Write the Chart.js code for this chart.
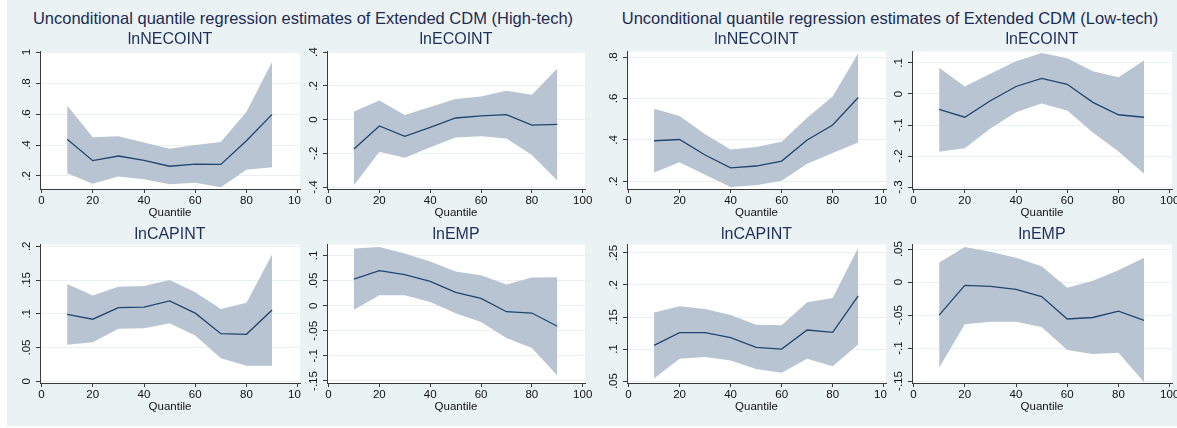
<!DOCTYPE html>
<html>
<head>
<meta charset="utf-8">
<script src="https://cdn.jsdelivr.net/npm/chart.js@4"></script>
<style>
  html, body { margin: 0; padding: 0; background: #fff; }
  body { width: 1177px; height: 428px; position: relative; overflow: hidden; font-family: "Liberation Sans", Arial, sans-serif; }
  #bg { position: absolute; left: 7px; top: 0; width: 1170px; height: 426px; background: #eaf2f3; }
  .main-title { position: absolute; top: 8px; width: 600px; text-align: center; font-size: 16.5px; line-height: 20px; color: #1e2b52; white-space: nowrap; }
  canvas.panel { position: absolute; }
</style>
</head>
<body>
<div id="bg"></div>
<div class="main-title" style="left:3px">Unconditional quantile regression estimates of Extended CDM (High-tech)</div>
<div class="main-title" style="left:590px">Unconditional quantile regression estimates of Extended CDM (Low-tech)</div>

<script>
// quantiles on the x axis
const quantiles = [10, 20, 30, 40, 50, 60, 70, 80, 90];
const xTicks = [0, 20, 40, 60, 80, 100];

// High-tech: lnNECOINT
const hiNecoEst = [0.437, 0.299, 0.329, 0.301, 0.263, 0.277, 0.275, 0.428, 0.598];
const hiNecoHi  = [0.656, 0.450, 0.456, 0.417, 0.376, 0.400, 0.419, 0.615, 0.937];
const hiNecoLo  = [0.217, 0.150, 0.196, 0.179, 0.146, 0.157, 0.127, 0.241, 0.256];
const hiNecoTicks = [0.2, 0.4, 0.6, 0.8, 1];

// High-tech: lnECOINT
const hiEcoEst = [-0.174, -0.037, -0.099, -0.045, 0.010, 0.022, 0.030, -0.032, -0.028];
const hiEcoHi  = [0.049, 0.113, 0.028, 0.075, 0.123, 0.138, 0.172, 0.148, 0.304];
const hiEcoLo  = [-0.389, -0.190, -0.225, -0.164, -0.105, -0.099, -0.111, -0.209, -0.360];
const hiEcoTicks = [-0.4, -0.2, 0, 0.2, 0.4];

// Low-tech: lnNECOINT
const loNecoEst = [0.396, 0.402, 0.327, 0.265, 0.274, 0.298, 0.400, 0.472, 0.605];
const loNecoHi  = [0.550, 0.515, 0.427, 0.354, 0.366, 0.391, 0.507, 0.610, 0.819];
const loNecoLo  = [0.243, 0.292, 0.232, 0.173, 0.181, 0.203, 0.285, 0.337, 0.388];
const loNecoTicks = [0.2, 0.4, 0.6, 0.8];

// Low-tech: lnECOINT
const loEcoEst = [-0.050, -0.075, -0.022, 0.024, 0.050, 0.031, -0.027, -0.067, -0.075];
const loEcoHi  = [0.084, 0.024, 0.065, 0.105, 0.132, 0.115, 0.073, 0.054, 0.108];
const loEcoLo  = [-0.186, -0.175, -0.111, -0.059, -0.031, -0.053, -0.124, -0.185, -0.257];
const loEcoTicks = [-0.3, -0.2, -0.1, 0, 0.1];

// High-tech: lnCAPINT
const hiCapEst = [0.099, 0.092, 0.109, 0.110, 0.119, 0.101, 0.0706, 0.0696, 0.1057];
const hiCapHi  = [0.144, 0.127, 0.140, 0.141, 0.150, 0.132, 0.107, 0.1165, 0.188];
const hiCapLo  = [0.054, 0.058, 0.078, 0.0785, 0.086, 0.068, 0.034, 0.023, 0.023];
const hiCapTicks = [0, 0.05, 0.1, 0.15, 0.2];

// High-tech: lnEMP
const hiEmpEst = [0.053, 0.070, 0.062, 0.0485, 0.0266, 0.0146, -0.012, -0.0146, -0.041];
const hiEmpHi  = [0.114, 0.117, 0.104, 0.088, 0.068, 0.0605, 0.042, 0.056, 0.0565];
const hiEmpLo  = [-0.008, 0.021, 0.0206, 0.0073, -0.015, -0.0326, -0.0645, -0.0845, -0.139];
const hiEmpTicks = [-0.15, -0.1, -0.05, 0, 0.05, 0.1];

// Low-tech: lnCAPINT
const loCapEst = [0.1057, 0.1255, 0.1255, 0.1177, 0.1026, 0.100, 0.1297, 0.126, 0.183];
const loCapHi  = [0.157, 0.1667, 0.1625, 0.153, 0.138, 0.137, 0.173, 0.1797, 0.258];
const loCapLo  = [0.054, 0.085, 0.0875, 0.082, 0.0688, 0.063, 0.085, 0.073, 0.107];
const loCapTicks = [0.05, 0.1, 0.15, 0.2, 0.25];

// Low-tech: lnEMP
const loEmpEst = [-0.050, -0.005, -0.0066, -0.011, -0.022, -0.056, -0.0537, -0.044, -0.058];
const loEmpHi  = [0.0297, 0.053, 0.046, 0.037, 0.024, -0.0087, 0.002, 0.018, 0.037];
const loEmpLo  = [-0.130, -0.064, -0.060, -0.060, -0.068, -0.103, -0.109, -0.107, -0.152];
const loEmpTicks = [-0.15, -0.1, -0.05, 0, 0.05];

const FONT = '"Liberation Sans", Arial, sans-serif';
const LINE_COLOR = '#1f4670';
const BAND_COLOR = '#b9c4d2';
const AXIS_COLOR = '#3a3a3a';
const GRID_COLOR = '#e8f0f2';
const TEXT_COLOR = '#111';

// canvas placement: left/width of canvas, y-axis width, right padding
const cols = [
    { left: 7,   width: 294, yw: 33, pr: 1 },
    { left: 301, width: 294, yw: 26, pr: 10 },
    { left: 595, width: 292, yw: 32, pr: 1 },
    { left: 887, width: 290, yw: 25, pr: 5 }
];
const rows = [
    { top: 30,  height: 190, titlePad: 2.5 },
    { top: 225, height: 189, titlePad: 0.4 }
];

const panels = [
    { title: 'lnNECOINT', est: hiNecoEst, lo: hiNecoLo, hi: hiNecoHi, ticks: hiNecoTicks, min: 0.116, max: 1.003, col: 0, row: 0 },
    { title: 'lnECOINT',  est: hiEcoEst,  lo: hiEcoLo,  hi: hiEcoHi,  ticks: hiEcoTicks,  min: -0.411, max: 0.403, col: 1, row: 0 },
    { title: 'lnNECOINT', est: loNecoEst, lo: loNecoLo, hi: loNecoHi, ticks: loNecoTicks, min: 0.163, max: 0.826, col: 2, row: 0 },
    { title: 'lnECOINT',  est: loEcoEst,  lo: loEcoLo,  hi: loEcoHi,  ticks: loEcoTicks,  min: -0.306, max: 0.136, col: 3, row: 0 },
    { title: 'lnCAPINT',  est: hiCapEst,  lo: hiCapLo,  hi: hiCapHi,  ticks: hiCapTicks,  min: -0.0025, max: 0.2025, col: 0, row: 1 },
    { title: 'lnEMP',     est: hiEmpEst,  lo: hiEmpLo,  hi: hiEmpHi,  ticks: hiEmpTicks,  min: -0.154, max: 0.1217, col: 1, row: 1 },
    { title: 'lnCAPINT',  est: loCapEst,  lo: loCapLo,  hi: loCapHi,  ticks: loCapTicks,  min: 0.047, max: 0.263, col: 2, row: 1 },
    { title: 'lnEMP',     est: loEmpEst,  lo: loEmpLo,  hi: loEmpHi,  ticks: loEmpTicks,  min: -0.153, max: 0.0568, col: 3, row: 1 }
];

// Stata style labels: ".8", "-.05", "0"
function stataFmt(v) {
    let s = String(parseFloat(v.toFixed(4)));
    return s.replace(/^0\./, '.').replace(/^-0\./, '-.');
}

// white plot region
const plotRegion = {
    id: 'plotRegion',
    beforeDraw(chart) {
        const a = chart.chartArea;
        const ctx = chart.ctx;
        ctx.save();
        ctx.fillStyle = '#ffffff';
        ctx.fillRect(a.left, a.top, a.right - a.left, a.bottom - a.top);
        ctx.restore();
    }
};

// rotated y tick labels, reading bottom to top
const stataYLabels = {
    id: 'stataYLabels',
    afterDraw(chart) {
        const s = chart.scales.y;
        const ctx = chart.ctx;
        ctx.save();
        ctx.font = '11.5px ' + FONT;
        ctx.fillStyle = TEXT_COLOR;
        ctx.textAlign = 'center';
        ctx.textBaseline = 'alphabetic';
        s.ticks.forEach(t => {
            const y = s.getPixelForValue(t.value);
            ctx.save();
            ctx.translate(s.right - 10.5, y);
            ctx.rotate(-Math.PI / 2);
            ctx.fillText(stataFmt(t.value), 0, 0);
            ctx.restore();
        });
        ctx.restore();
    }
};

function toPoints(arr) {
    return quantiles.map((q, i) => ({ x: q, y: arr[i] }));
}

panels.forEach(p => {
    const c = cols[p.col], r = rows[p.row];
    const canvas = document.createElement('canvas');
    canvas.className = 'panel';
    canvas.style.left = c.left + 'px';
    canvas.style.top = r.top + 'px';
    canvas.style.width = c.width + 'px';
    canvas.style.height = r.height + 'px';
    canvas.width = c.width;
    canvas.height = r.height;
    document.body.appendChild(canvas);

    new Chart(canvas, {
        type: 'line',
        data: {
            datasets: [
                { data: toPoints(p.est), borderColor: LINE_COLOR, borderWidth: 1.3, pointRadius: 0, fill: false, tension: 0 },
                { data: toPoints(p.hi), borderWidth: 0, borderColor: 'rgba(0,0,0,0)', pointRadius: 0, fill: '+1', backgroundColor: BAND_COLOR, tension: 0 },
                { data: toPoints(p.lo), borderWidth: 0, borderColor: 'rgba(0,0,0,0)', pointRadius: 0, fill: false, tension: 0 }
            ]
        },
        options: {
            responsive: false,
            animation: false,
            events: [],
            layout: { padding: { left: 0, right: c.pr, top: 0, bottom: 0 } },
            plugins: {
                legend: { display: false },
                tooltip: { enabled: false },
                title: {
                    display: true,
                    text: p.title,
                    fullSize: false,
                    color: '#1e2f5c',
                    font: { family: FONT, size: 16, weight: 'normal', lineHeight: 1.2 },
                    padding: { top: 0, bottom: r.titlePad }
                }
            },
            scales: {
                x: {
                    type: 'linear',
                    min: -0.6,
                    max: 100.9,
                    afterBuildTicks: s => { s.ticks = xTicks.map(v => ({ value: v })); },
                    afterFit: s => { s.height = 31; s.paddingLeft = 0; s.paddingRight = 0; },
                    border: { display: true, color: AXIS_COLOR, width: 1 },
                    grid: { drawOnChartArea: false, drawTicks: true, tickLength: 4, tickColor: AXIS_COLOR },
                    ticks: {
                        color: TEXT_COLOR,
                        font: { family: FONT, size: 11.5 },
                        padding: 1,
                        maxRotation: 0,
                        autoSkip: false,
                        callback: v => String(v)
                    },
                    title: {
                        display: true,
                        text: 'Quantile',
                        color: TEXT_COLOR,
                        font: { family: FONT, size: 11.5 },
                        padding: { top: 0, bottom: 0 }
                    }
                },
                y: {
                    type: 'linear',
                    min: p.min,
                    max: p.max,
                    afterBuildTicks: s => { s.ticks = p.ticks.map(v => ({ value: v })); },
                    afterFit: s => { s.width = c.yw; s.paddingTop = 0; s.paddingBottom = 0; },
                    border: { display: true, color: AXIS_COLOR, width: 1 },
                    grid: { color: GRID_COLOR, lineWidth: 1, drawTicks: true, tickLength: 4, tickColor: AXIS_COLOR },
                    ticks: { display: false }
                }
            }
        },
        plugins: [plotRegion, stataYLabels]
    });
});
</script>
</body>
</html>
